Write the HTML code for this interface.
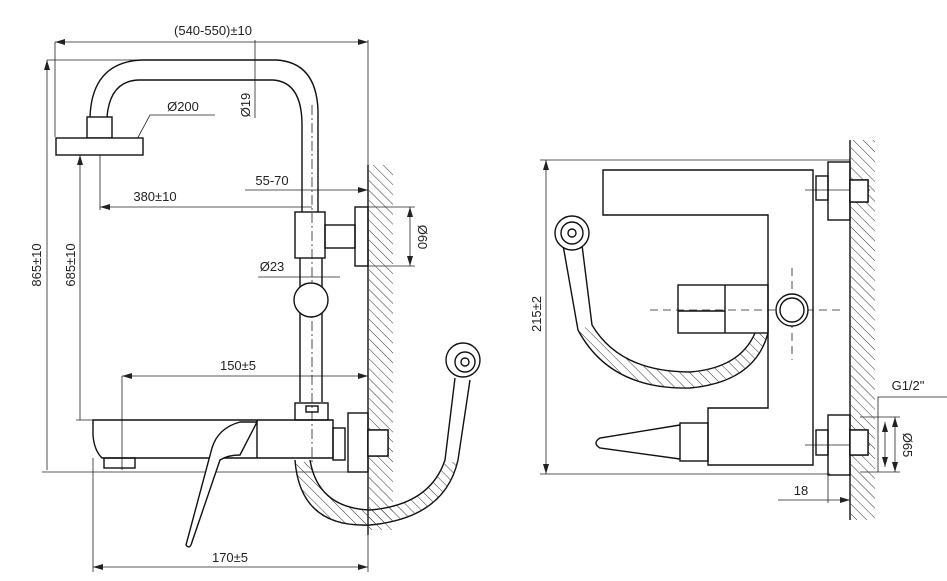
<!DOCTYPE html>
<html><head><meta charset="utf-8"><style>
html,body{margin:0;padding:0;background:#fff}
svg{display:block}
text{font-family:"Liberation Sans",sans-serif;font-size:13px;fill:#222}
</style></head><body>
<svg width="947" height="581" viewBox="0 0 947 581" xmlns="http://www.w3.org/2000/svg">
<defs>
<pattern id="h" width="7" height="7" patternUnits="userSpaceOnUse" patternTransform="rotate(-45)">
<line x1="0" y1="0" x2="0" y2="7" stroke="#333" stroke-width="1"/></pattern>
<marker id="a" markerWidth="10" markerHeight="6" refX="10" refY="3" orient="auto-start-reverse" markerUnits="userSpaceOnUse">
<path d="M0,0 L10,3 L0,6 z" fill="#222"/></marker>
</defs>
<g fill="none" stroke="#222" stroke-width="0.8">
<line x1="55" y1="42" x2="368" y2="42" marker-start="url(#a)" marker-end="url(#a)"/>
<line x1="55" y1="42" x2="55" y2="137"/>
<line x1="368" y1="40" x2="368" y2="165"/>
<line x1="47" y1="470" x2="47" y2="60" marker-end="url(#a)"/>
<line x1="47" y1="60" x2="276" y2="60"/>
<line x1="255" y1="40" x2="255" y2="118"/>
<line x1="80" y1="420" x2="80" y2="155" marker-end="url(#a)"/>
<line x1="100" y1="125" x2="100" y2="210"/>
<line x1="100" y1="207" x2="312" y2="207" marker-start="url(#a)"/>
<line x1="245" y1="190" x2="368" y2="190" marker-end="url(#a)"/>
<line x1="368" y1="207" x2="415" y2="207"/><line x1="368" y1="266" x2="415" y2="266"/>
<line x1="410" y1="207" x2="410" y2="266" marker-start="url(#a)" marker-end="url(#a)"/>
<line x1="258" y1="277" x2="340" y2="277"/>
<line x1="122" y1="376" x2="368" y2="376" marker-start="url(#a)" marker-end="url(#a)"/>
<line x1="122" y1="376" x2="122" y2="470"/>
<line x1="42" y1="472" x2="368" y2="472"/>
<line x1="76" y1="420" x2="100" y2="420"/>
<line x1="93" y1="458" x2="93" y2="572"/>
<line x1="368" y1="472" x2="368" y2="572"/>
<line x1="93" y1="567" x2="368" y2="567" marker-start="url(#a)" marker-end="url(#a)"/>
<polyline points="135,143 150,115 215,115"/>
<line x1="312" y1="105" x2="312" y2="465" stroke-dasharray="10,3,2,3"/>
</g>
<g fill="none" stroke="#111" stroke-width="1.4">
<path d="M90,117 Q92,62 142,60 L276,60 Q316,62 318,110 L318,212"/>
<path d="M107,117 Q110,80 140,80 L273,80 Q302,82 302,125 L302,212"/>
<rect x="87" y="117" width="25" height="21" fill="#fff"/>
<rect x="56" y="138" width="87" height="17" fill="#fff"/>
<rect x="295" y="212" width="30" height="46"/>
<rect x="325" y="225" width="30" height="23"/>
<rect x="355" y="207" width="13" height="59"/>
<line x1="300" y1="258" x2="300" y2="402"/><line x1="322" y1="258" x2="322" y2="402"/>
<circle cx="311" cy="300" r="17" fill="#fff"/>
<path d="M93,420 L333,420 L333,458 L102,458 Q94,450 93,435 Z"/>
<line x1="257" y1="420" x2="257" y2="458"/>
<rect x="295" y="403" width="33" height="17"/>
<rect x="306" y="406" width="12" height="6"/>
<rect x="104" y="458" width="31" height="10"/>
<rect x="333" y="428" width="12" height="32"/>
<rect x="348" y="413" width="20" height="59"/>
<rect x="368" y="430" width="20" height="26"/>
<path d="M257,422 L240,422 Q218,428 212,448 L186,545 Q190,550 192,542 L220,460 Q228,455 240,455 Z" fill="#fff"/>
<path d="M295,460 Q300,528 370,525 Q445,518 458,460 L470,380" />
<path d="M310,460 Q318,508 370,510 Q430,505 445,460 L455,378"/>
<circle cx="463" cy="360" r="17" fill="#fff"/><circle cx="465" cy="362" r="10"/><circle cx="465" cy="362" r="4"/>
<line x1="368" y1="165" x2="368" y2="535"/>
</g>
<path d="M296,462 Q300,528 370,525 Q445,518 458,462 L445,462 Q430,505 370,510 Q318,508 310,462 Z" fill="url(#h)"/>
<rect x="369" y="165" width="24" height="365" fill="url(#h)"/>
<rect x="368" y="430" width="20" height="26" fill="#fff" stroke="#111" stroke-width="1.4"/>

<g fill="none" stroke="#222" stroke-width="0.8">
<line x1="546" y1="160" x2="546" y2="474" marker-start="url(#a)" marker-end="url(#a)"/>
<line x1="540" y1="160" x2="850" y2="160"/>
<line x1="540" y1="474" x2="830" y2="474"/>
<line x1="650" y1="310" x2="840" y2="310" stroke-dasharray="8,5"/>
<line x1="792" y1="268" x2="792" y2="360" stroke-dasharray="8,5"/>
<line x1="805" y1="190" x2="870" y2="190"/><line x1="805" y1="445" x2="870" y2="445"/>
<polyline points="947,397 878,397 878,472"/>
<line x1="860" y1="417" x2="900" y2="417"/><line x1="860" y1="472" x2="900" y2="472"/>
<line x1="895" y1="417" x2="895" y2="472" marker-start="url(#a)" marker-end="url(#a)"/>
<line x1="885" y1="422" x2="885" y2="467" marker-start="url(#a)" marker-end="url(#a)"/>
<line x1="828" y1="474" x2="828" y2="503"/>
<line x1="778" y1="500" x2="850" y2="500" marker-end="url(#a)"/>
</g>
<g fill="none" stroke="#111" stroke-width="1.4">
<path d="M603,170 L813,170 L813,465 L708,465 L708,408 L768,408 L768,215 L603,215 Z"/>
<rect x="678" y="285" width="90" height="48"/>
<line x1="725" y1="285" x2="725" y2="333"/>
<line x1="678" y1="311" x2="725" y2="311"/>
<circle cx="792" cy="310" r="16" fill="#fff"/><circle cx="792" cy="310" r="12"/>
<rect x="680" y="423" width="28" height="38"/>
<path d="M680,425 L600,438 Q592,443 600,448 L680,459"/>
<rect x="816" y="176" width="12" height="24"/><rect x="828" y="162" width="22" height="58"/>
<rect x="850" y="180" width="18" height="22"/>
<rect x="816" y="430" width="12" height="25"/><rect x="828" y="415" width="22" height="60"/>
<rect x="850" y="430" width="18" height="25"/>
<path d="M563,245 L578,330 Q610,390 690,388 Q755,382 768,333"/>
<path d="M582,245 L592,325 Q620,372 690,372 Q740,368 755,333"/>
<circle cx="572" cy="233" r="17" fill="#fff"/><circle cx="572" cy="233" r="11"/><circle cx="572" cy="233" r="4"/>
<line x1="850" y1="140" x2="850" y2="520"/>
</g>
<path d="M578,330 Q610,390 690,388 Q755,382 768,333 L755,333 Q740,368 690,372 Q620,372 592,325 Z" fill="url(#h)"/>
<rect x="851" y="140" width="24" height="380" fill="url(#h)"/>
<rect x="850" y="180" width="18" height="22" fill="#fff" stroke="#111" stroke-width="1.4"/>
<rect x="850" y="430" width="18" height="25" fill="#fff" stroke="#111" stroke-width="1.4"/>

<text x="213" y="35" text-anchor="middle">(540-550)±10</text>
<text x="183" y="111" text-anchor="middle">Ø200</text>
<text x="155" y="201" text-anchor="middle">380±10</text>
<text x="272" y="185" text-anchor="middle">55-70</text>
<text x="272" y="271" text-anchor="middle">Ø23</text>
<text x="238" y="370" text-anchor="middle">150±5</text>
<text x="230" y="562" text-anchor="middle">170±5</text>
<text transform="translate(41,265) rotate(-90)" text-anchor="middle">865±10</text>
<text transform="translate(75,265) rotate(-90)" text-anchor="middle">685±10</text>
<text transform="translate(250,105) rotate(-90)" text-anchor="middle">Ø19</text>
<text transform="translate(418,237) rotate(90)" text-anchor="middle">Ø60</text>
<text transform="translate(541,314) rotate(-90)" text-anchor="middle">215±2</text>
<text x="908" y="390" text-anchor="middle">G1/2"</text>
<text transform="translate(903,445) rotate(90)" text-anchor="middle">Ø65</text>
<text x="801" y="495" text-anchor="middle">18</text>
</svg>
</body></html>
